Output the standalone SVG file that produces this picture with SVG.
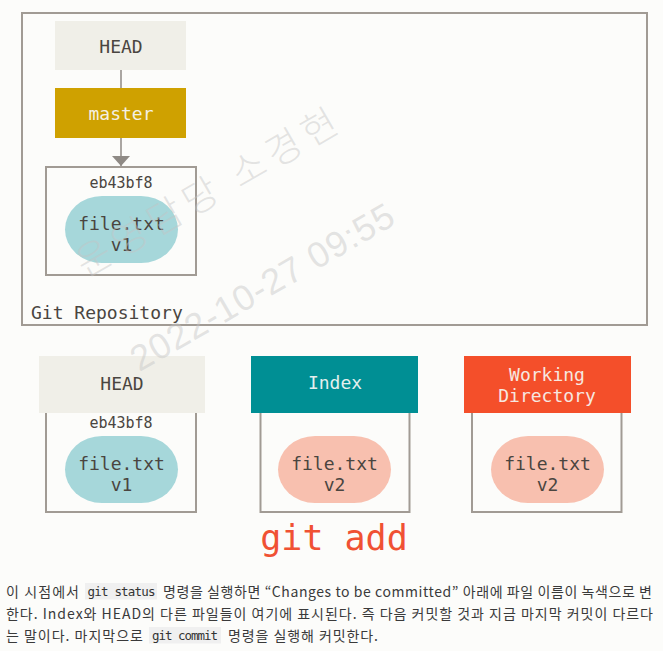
<svg xmlns="http://www.w3.org/2000/svg" width="663" height="651" viewBox="0 0 663 651">
<style>
.mono{font-family:"DejaVu Sans Mono","Liberation Mono",monospace;}
.lbl{font-size:18px;text-anchor:middle;fill:#4a4540;}
.hash{font-size:15px;text-anchor:middle;fill:#4a4540;}
.box{fill:none;stroke:#a19b94;stroke-width:2;}
.blobA{fill:#a6d7da;}
.blobB{fill:#f8c0af;}
.body{font-family:"Noto Sans CJK KR","Malgun Gothic",sans-serif;font-size:14px;fill:#3a3a3a;}
.code{font-family:"DejaVu Sans Mono","Liberation Mono",monospace;font-size:12.5px;fill:#333;}
.codebg{fill:#f0f0f0;}
.wm{font-family:"Noto Sans CJK KR","Liberation Sans",sans-serif;fill:#c4c4c4;fill-opacity:0.45;text-anchor:middle;dominant-baseline:central;}
</style>
<defs>
<marker id="arr" viewBox="0 0 10 18" refX="10" refY="9" markerWidth="10" markerHeight="18" markerUnits="userSpaceOnUse" orient="auto">
<path d="M0,0 L10,9 L0,18 Z" fill="#8f8a85"/>
</marker>
</defs>
<rect x="0" y="0" width="663" height="651" fill="#fcfcfa"/>

<g id="repo">
<rect x="22" y="13" width="625" height="312" class="box"/>
<text x="31" y="318.5" class="mono" style="font-size:18px;fill:#4a4540">Git Repository</text>
</g>

<g id="head-top">
<rect x="55" y="21" width="131" height="49" fill="#f0efe8"/>
<text x="121" y="52.5" class="mono lbl">HEAD</text>
</g>

<g id="master">
<rect x="55" y="88" width="131" height="50" fill="#cfa100"/>
<text x="121" y="120" class="mono lbl" style="fill:#f4f0e4">master</text>
</g>

<g id="commit-top">
<rect x="46" y="167" width="150" height="108" class="box"/>
<text x="121" y="188" class="mono hash">eb43bf8</text>
<rect x="65" y="196" width="113" height="67" rx="37" ry="33.5" class="blobA"/>
<text x="121.5" y="230" class="mono lbl">file.txt</text>
<text x="121.5" y="251" class="mono lbl">v1</text>
</g>

<g id="connectors">
<line x1="121" y1="70" x2="121" y2="88" stroke="#8f8a85" stroke-width="1.5"/>
<line x1="121" y1="138" x2="121" y2="166" stroke="#8f8a85" stroke-width="1.5" marker-end="url(#arr)"/>
</g>

<g id="head-tree">
<rect x="46" y="400" width="150" height="112" class="box"/>
<rect x="39" y="356" width="166" height="57" fill="#f0efe8"/>
<text x="122" y="390" class="mono lbl">HEAD</text>
<text x="121" y="428" class="mono hash">eb43bf8</text>
<rect x="65" y="436" width="113" height="67" rx="37" ry="33.5" class="blobA"/>
<text x="121.5" y="470" class="mono lbl">file.txt</text>
<text x="121.5" y="491" class="mono lbl">v1</text>
</g>

<g id="index">
<rect x="260.5" y="400" width="149" height="112" class="box"/>
<rect x="251" y="356" width="167" height="57" fill="#008f94"/>
<text x="335" y="389" class="mono lbl" style="fill:#e4efee">Index</text>
<rect x="278" y="436" width="113" height="67" rx="37" ry="33.5" class="blobB"/>
<text x="334.5" y="470" class="mono lbl">file.txt</text>
<text x="334.5" y="491" class="mono lbl">v2</text>
</g>

<g id="working-directory">
<rect x="472" y="400" width="149.5" height="112" class="box"/>
<rect x="464" y="356" width="167" height="57" fill="#f44f2a"/>
<text x="547" y="381" class="mono lbl" style="fill:#f6e7e0">Working</text>
<text x="547" y="402" class="mono lbl" style="fill:#f6e7e0">Directory</text>
<rect x="491" y="436" width="113" height="67" rx="37" ry="33.5" class="blobB"/>
<text x="547.5" y="470" class="mono lbl">file.txt</text>
<text x="547.5" y="491" class="mono lbl">v2</text>
</g>

<g id="git-add">
<text x="334" y="550" class="mono" style="font-size:35px;fill:#f05133;text-anchor:middle">git add</text>
</g>

<g id="caption">
<text x="6" y="597" class="body" textLength="73">이 시점에서</text>
<rect x="85" y="583" width="72" height="16.5" class="codebg"/>
<text x="87.5" y="596" class="code" textLength="68">git status</text>
<text x="163" y="597" class="body" textLength="489">명령을 실행하면 “Changes to be committed” 아래에 파일 이름이 녹색으로 변</text>
<text x="6" y="618.5" class="body" textLength="647">한다. Index와 HEAD의 다른 파일들이 여기에 표시된다. 즉 다음 커밋할 것과 지금 마지막 커밋이 다르다</text>
<text x="6" y="640.5" class="body" textLength="137">는 말이다. 마지막으로</text>
<rect x="149" y="627" width="72" height="16.5" class="codebg"/>
<text x="152" y="640" class="code" textLength="66">git commit</text>
<text x="228" y="640.5" class="body" textLength="150">명령을 실행해 커밋한다.</text>
</g>

<g id="watermark">
<text class="wm" transform="translate(205,190) rotate(-30)" style="font-size:38px;font-weight:300" textLength="295">운영담당 소경현</text>
<text class="wm" transform="translate(262,287) rotate(-30)" style="font-size:36px;font-family:'Liberation Sans',sans-serif;font-weight:300" textLength="298">2022-10-27 09:55</text>
</g>
</svg>
